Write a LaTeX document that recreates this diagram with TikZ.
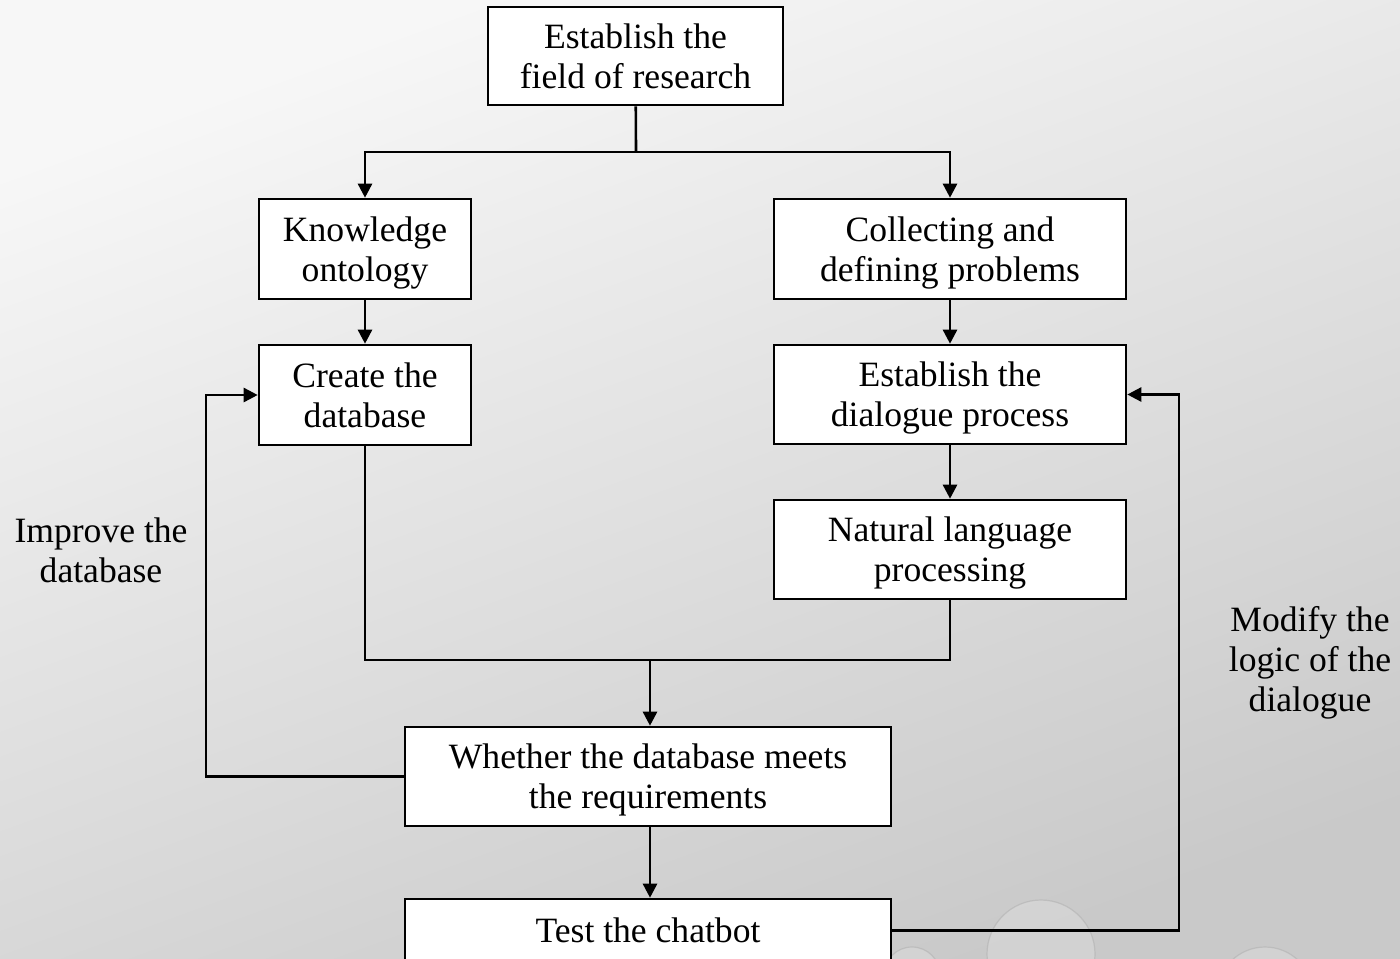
\documentclass[tikz,border=0pt]{standalone}
\usepackage{fontspec}
\setmainfont{Liberation Serif}
\usetikzlibrary{arrows.meta}
\tikzset{
    stepbox/.style={draw=black, fill=white, line width=1.3pt, align=center, inner sep=0pt,
        text depth=0pt, font=\fontsize{17.8}{20}\selectfont},
    note/.style={align=center, font=\fontsize{17.8}{20}\selectfont},
    link/.style={line width=1.3pt, draw=black},
    arr/.style={link, -{Triangle[length=7pt,width=7pt]}},
}
\begin{document}
\begin{tikzpicture}[x=0.5pt,y=-0.5pt]

    \def\frame{(0,0) rectangle (1400,958)}
    \useasboundingbox \frame;

    %background:
    \shade[top color=white!97!black, bottom color=black!21, shading angle=20] \frame;

    %bubbles:
    \begin{scope}
        \clip \frame;
        \foreach \bx/\by/\br in {1041/954/54, 1265/995/48, 912/975/28}{
            \fill[white, opacity=.18] (\bx,\by) circle (\br);
            \draw[black!30, opacity=.6, line width=.6pt] (\bx,\by) circle (\br);
            \draw[white, opacity=.7, line width=2pt] (\bx,\by) ++(150:\br*0.86) arc (150:95:\br*0.86);
        }
    \end{scope}

    %boxes:
    \node[stepbox, minimum width=147.5pt, minimum height=49pt] (field) at (635.5,56) {Establish the\\field of research};
    \node[stepbox, minimum width=106pt, minimum height=50pt] (know) at (365,249) {Knowledge\\ontology};
    \node[stepbox, minimum width=176pt, minimum height=50pt] (coll) at (950,249) {Collecting and\\defining problems};
    \node[stepbox, minimum width=106pt, minimum height=50pt] (create) at (365,395) {Create the\\database};
    \node[stepbox, minimum width=176pt, minimum height=49.5pt] (dial) at (950,394.5) {Establish the\\dialogue process};
    \node[stepbox, minimum width=176pt, minimum height=49.5pt] (nlp) at (950,549.5) {Natural language\\processing};
    \node[stepbox, minimum width=243pt, minimum height=49.5pt] (check) at (648,776.5) {Whether the database meets\\the requirements};
    \node[stepbox, minimum width=243pt, minimum height=31.5pt] (test) at (648,930.5) {Test the chatbot};

    %side notes:
    \node[note] (improve) at (101,550) {Improve the\\database};
    \node[note] (modify) at (1310,663) {Modify the\\logic of the\\dialogue};

    %connectors:
    \coordinate (split) at (636,152);
    \coordinate (merge) at (650,660);
    \coordinate (leftbus) at (206,0);
    \coordinate (rightbus) at (1179,0);

    \draw[link] (field) -- (split);
    \draw[arr] (split) -| (know);
    \draw[arr] (split) -| (coll);
    \draw[arr] (know) -- (create);
    \draw[arr] (coll) -- (dial);
    \draw[arr] (dial) -- (nlp);
    \draw[link] (create) |- (merge);
    \draw[link] (nlp) |- (merge);
    \draw[arr] (merge) -- (merge |- check.north);
    \draw[arr] (check.south -| merge) -- (test.north -| merge);

    %feedback loops:
    \draw[arr] (check.west) -- (check.west -| leftbus) |- (create.west);
    \draw[arr] (test.east) -- (test.east -| rightbus) |- (dial.east);

\end{tikzpicture}
\end{document}
